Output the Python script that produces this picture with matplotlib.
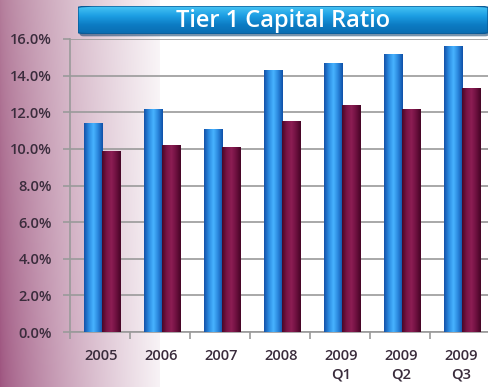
import numpy as np
import matplotlib.pyplot as plt
from matplotlib.colors import LinearSegmentedColormap
from matplotlib.patches import FancyBboxPatch

# Tier 1 capital ratio by period (%)
periods = ['2005', '2006', '2007', '2008', '2009\nQ1', '2009\nQ2', '2009\nQ3']
series_a = [11.4, 12.2, 11.1, 14.3, 14.7, 15.2, 15.6]
series_b = [9.9, 10.2, 10.1, 11.5, 12.4, 12.2, 13.3]
y_ticks = [0, 2, 4, 6, 8, 10, 12, 14, 16]

W, H = 489, 387
fig = plt.figure(figsize=(W / 100, H / 100), dpi=100)
plt.rcParams['font.family'] = ['Open Sans', 'DejaVu Sans']

# background: mauve fade on the left side
bg = fig.add_axes([0, 0, 1, 1], zorder=-10)
xs = np.linspace(0, W, W)
ys = np.linspace(0, 1, H)
t = np.clip(xs / 160.0, 0, 1) ** 0.75
t = np.where(xs > 160, 1.0, t * 0.93)
base_top = np.array([0.70, 0.48, 0.60])
base_bot = np.array([0.62, 0.33, 0.50])
img = np.zeros((H, W, 3))
for i, fy in enumerate(ys):
    base = base_top * (1 - fy) + base_bot * fy
    img[i] = base[None, :] * (1 - t[:, None]) + t[:, None]
img[:, xs > 160] = 1.0
bg.imshow(img, aspect='auto', extent=(0, 1, 0, 1), origin='upper')
bg.set_axis_off()

ax = fig.add_axes([70 / W, (H - 332) / H, 420 / W, 293 / H])
ax.patch.set_alpha(0)

blue = LinearSegmentedColormap.from_list(
    'blue', ['#1452a8', '#2a8ae0', '#48b4ff', '#2a86dc', '#0f50a8'])
maroon = LinearSegmentedColormap.from_list(
    'maroon', ['#4a0828', '#7a1446', '#8c1e54', '#6e1040', '#460626'])

x = np.arange(len(periods))
bw = 0.31
grad = np.linspace(0, 1, 64)[None, :]


def shaded_bars(xpos, vals, cmap):
    bars = ax.bar(xpos, vals, width=bw, color=cmap(0.5), zorder=3)
    for b in bars:
        x0, h = b.get_x(), b.get_height()
        im = ax.imshow(grad, cmap=cmap, aspect='auto', zorder=4,
                       extent=(x0, x0 + b.get_width(), 0, h))
        im.set_clip_path(b)


shaded_bars(x + 0.04 - bw / 2, series_a, blue)
shaded_bars(x + 0.04 + bw / 2, series_b, maroon)

ax.set_xlim(-0.5, len(periods) - 0.5)
ax.set_ylim(0, 16)
ax.set_yticks(y_ticks)
ax.set_yticklabels([f'{v:.1f}%' for v in y_ticks])
ax.yaxis.grid(True, color='#9a9a9a', lw=1.2, zorder=0)
ax.set_axisbelow(True)

ax.set_xticks(x + 0.02)
ax.set_xticklabels(periods, linespacing=1.45)
ax.set_xticks(np.arange(len(periods) + 1) - 0.5, minor=True)
ax.tick_params(axis='x', which='major', length=0, pad=12)
ax.tick_params(axis='x', which='minor', length=5, color='#9a9a9a', width=1.2)
ax.tick_params(axis='y', length=5, color='#9a9a9a', width=1.2, pad=8)
for lab in ax.get_xticklabels() + ax.get_yticklabels():
    lab.set_fontsize(10.5)
    lab.set_color('#3a2c3c')
    lab.set_fontweight('semibold')
for lab in ax.get_xticklabels():
    lab.set_va('top')

for s in ['top', 'right']:
    ax.spines[s].set_visible(False)
for s in ['left', 'bottom']:
    ax.spines[s].set_color('#9a9a9a')
    ax.spines[s].set_linewidth(1.2)

# title banner
tx0, ty0, tw, th = 78 / W, (H - 34) / H, 410 / W, 28 / H
shadow = FancyBboxPatch((tx0 + 0.003, ty0 - 0.006), tw, th,
                        boxstyle='round,pad=0,rounding_size=0.008',
                        transform=fig.transFigure, fc='#0a3a66', ec='none',
                        alpha=0.55, zorder=5)
fig.patches.append(shadow)
tax = fig.add_axes([tx0, ty0, tw, th], zorder=6)
tgrad = np.linspace(0, 1, 64)[:, None]
tcm = LinearSegmentedColormap.from_list('title', ['#48c4f4', '#1ea0e4', '#0c7cc4', '#0a6cb0'])
box = FancyBboxPatch((0, 0), 1, 1, boxstyle='round,pad=0,rounding_size=0.06',
                     transform=tax.transAxes, fc='none', ec='#0a5a96', lw=1)
tax.add_patch(box)
timg = tax.imshow(tgrad, cmap=tcm, aspect='auto', extent=(0, 1, 0, 1), origin='upper')
timg.set_clip_path(box)
tax.set_xlim(0, 1)
tax.set_ylim(0, 1)
tax.set_axis_off()
tax.text(0.5, 0.47, 'Tier 1 Capital Ratio', color='white', fontsize=17,
         ha='center', va='center', fontweight='semibold')

fig.savefig('out.png', dpi=100)
